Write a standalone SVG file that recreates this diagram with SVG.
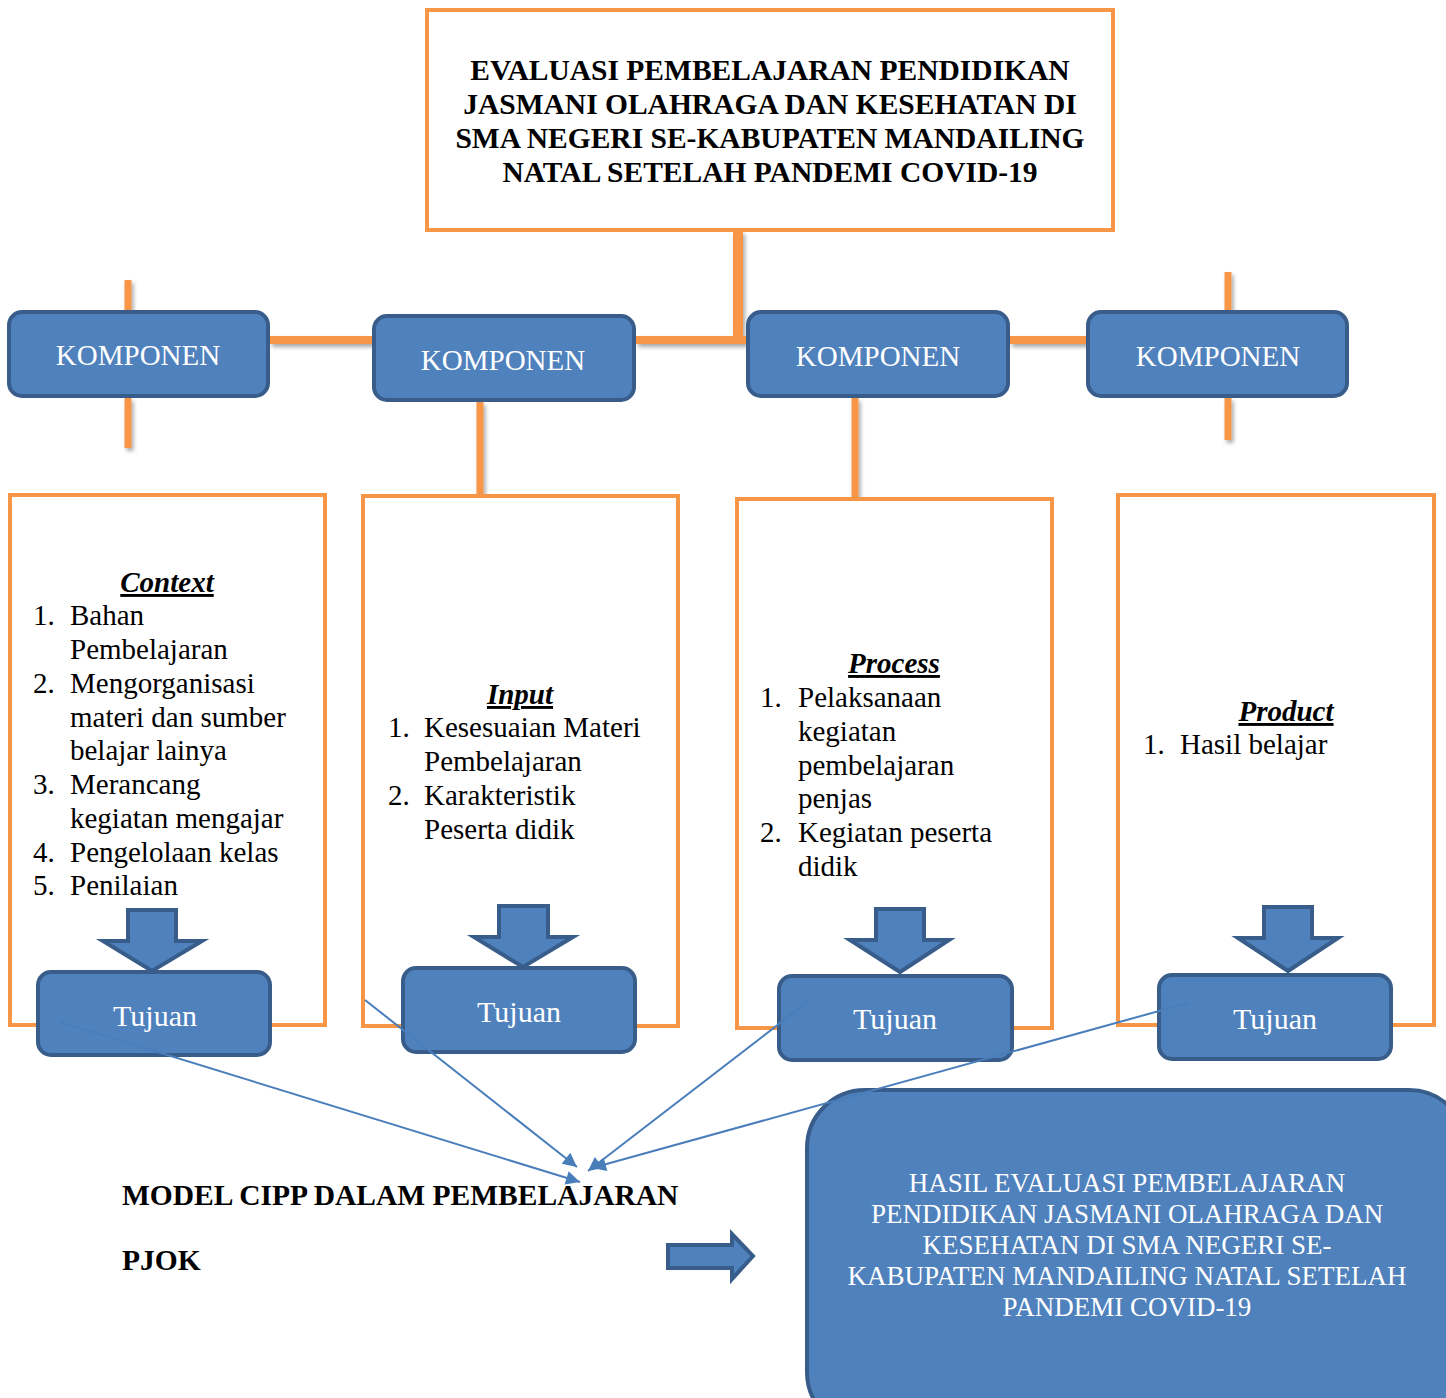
<svg xmlns="http://www.w3.org/2000/svg" width="1446" height="1398" viewBox="0 0 1446 1398">
<defs>
<style>
.ol{stroke:#F79646;fill:none}
.obox{fill:#FFFFFF;stroke:#F79646;stroke-width:4}
.bbox{fill:#4F81BD;stroke:#385D8A;stroke-width:4}
.barrow{fill:#4F81BD;stroke:#385D8A;stroke-width:4;stroke-linejoin:miter}
.wt{font-family:"Liberation Serif","Times New Roman",serif;fill:#FFFFFF;text-anchor:middle}
.bt{font-family:"Liberation Serif","Times New Roman",serif;fill:#000000;font-size:29px}
.bold{font-weight:bold;font-size:29.5px}
.hd{font-family:"Liberation Serif","Times New Roman",serif;font-weight:bold;font-style:italic;text-decoration:underline;font-size:29px;text-anchor:middle;fill:#000}
.thin{stroke:#4A7EBB;stroke-width:2;fill:none;marker-end:url(#ah)}
</style>
<filter id="sh" x="-50%" y="-50%" width="200%" height="200%">
<feGaussianBlur in="SourceAlpha" stdDeviation="2"/>
<feOffset dx="2" dy="3" result="b"/>
<feComponentTransfer><feFuncA type="linear" slope="0.35"/></feComponentTransfer>
<feMerge><feMergeNode/><feMergeNode in="SourceGraphic"/></feMerge>
</filter>
<marker id="ah" viewBox="0 0 10 10" refX="10" refY="5" markerWidth="16" markerHeight="14" markerUnits="userSpaceOnUse" orient="auto">
<path d="M0,0 L10,5 L0,10 z" fill="#4A7EBB"/>
</marker>
</defs>
<rect width="1446" height="1398" fill="#FFFFFF"/>

<g id="connectors" filter="url(#sh)">
<line class="ol" stroke-width="10" x1="738" y1="231" x2="738" y2="344"/>
<line class="ol" stroke-width="8" x1="270" y1="340" x2="373" y2="340"/>
<line class="ol" stroke-width="8" x1="636" y1="340" x2="746" y2="340"/>
<line class="ol" stroke-width="8" x1="1010" y1="340" x2="1087" y2="340"/>
<line class="ol" stroke-width="7" x1="128" y1="280" x2="128" y2="311"/>
<line class="ol" stroke-width="7" x1="128" y1="398" x2="128" y2="448"/>
<line class="ol" stroke-width="7" x1="480" y1="402" x2="480" y2="495"/>
<line class="ol" stroke-width="7" x1="855" y1="398" x2="855" y2="498"/>
<line class="ol" stroke-width="7" x1="1228" y1="272" x2="1228" y2="311"/>
<line class="ol" stroke-width="7" x1="1228" y1="398" x2="1228" y2="440"/>
</g>

<g id="title">
<rect class="obox" x="427" y="10" width="686" height="220"/>
<text class="bt bold" text-anchor="middle" x="770" y="80">EVALUASI PEMBELAJARAN PENDIDIKAN</text>
<text class="bt bold" text-anchor="middle" x="770" y="114">JASMANI OLAHRAGA DAN KESEHATAN DI</text>
<text class="bt bold" text-anchor="middle" x="770" y="148">SMA NEGERI SE-KABUPATEN MANDAILING</text>
<text class="bt bold" text-anchor="middle" x="770" y="182">NATAL SETELAH PANDEMI COVID-19</text>
</g>

<g id="komponen1">
<rect class="bbox" x="9" y="312" width="259" height="84" rx="13"/>
<text class="wt" x="138" y="365" font-size="29">KOMPONEN</text>
</g>
<g id="komponen2">
<rect class="bbox" x="374" y="316" width="260" height="84" rx="13"/>
<text class="wt" x="503" y="370" font-size="29">KOMPONEN</text>
</g>
<g id="komponen3">
<rect class="bbox" x="748" y="312" width="260" height="84" rx="13"/>
<text class="wt" x="878" y="366" font-size="29">KOMPONEN</text>
</g>
<g id="komponen4">
<rect class="bbox" x="1088" y="312" width="259" height="84" rx="13"/>
<text class="wt" x="1218" y="366" font-size="29">KOMPONEN</text>
</g>

<g id="context">
<rect class="obox" x="10" y="495" width="315" height="530"/>
<text class="hd" x="167" y="592">Context</text>
<text class="bt" x="33" y="625">1.</text><text class="bt" x="70" y="625">Bahan</text>
<text class="bt" x="70" y="659">Pembelajaran</text>
<text class="bt" x="33" y="693">2.</text><text class="bt" x="70" y="693">Mengorganisasi</text>
<text class="bt" x="70" y="727">materi dan sumber</text>
<text class="bt" x="70" y="760">belajar lainya</text>
<text class="bt" x="33" y="794">3.</text><text class="bt" x="70" y="794">Merancang</text>
<text class="bt" x="70" y="828">kegiatan mengajar</text>
<text class="bt" x="33" y="862">4.</text><text class="bt" x="70" y="862">Pengelolaan kelas</text>
<text class="bt" x="33" y="895">5.</text><text class="bt" x="70" y="895">Penilaian</text>
<polygon class="barrow" points="128,910 176,910 176,941 202,941 152,971 103,941 128,941"/>
</g>

<g id="input">
<rect class="obox" x="363" y="496" width="315" height="530"/>
<text class="hd" x="520" y="704">Input</text>
<text class="bt" x="388" y="737">1.</text><text class="bt" x="424" y="737">Kesesuaian Materi</text>
<text class="bt" x="424" y="771">Pembelajaran</text>
<text class="bt" x="388" y="805">2.</text><text class="bt" x="424" y="805">Karakteristik</text>
<text class="bt" x="424" y="839">Peserta didik</text>
<polygon class="barrow" points="499,906 548,906 548,937 573,937 523,967 474,937 499,937"/>
</g>

<g id="process">
<rect class="obox" x="737" y="499" width="315" height="529"/>
<text class="hd" x="894" y="673">Process</text>
<text class="bt" x="760" y="707">1.</text><text class="bt" x="798" y="707">Pelaksanaan</text>
<text class="bt" x="798" y="741">kegiatan</text>
<text class="bt" x="798" y="775">pembelajaran</text>
<text class="bt" x="798" y="808">penjas</text>
<text class="bt" x="760" y="842">2.</text><text class="bt" x="798" y="842">Kegiatan peserta</text>
<text class="bt" x="798" y="876">didik</text>
<polygon class="barrow" points="876,909 924,909 924,940 949,940 900,972 850,940 876,940"/>
</g>

<g id="product">
<rect class="obox" x="1118" y="495" width="316" height="530"/>
<text class="hd" x="1286" y="721">Product</text>
<text class="bt" x="1143" y="754">1.</text><text class="bt" x="1180" y="754">Hasil belajar</text>
<polygon class="barrow" points="1264,907 1312,907 1312,938 1338,938 1288,971 1238,938 1264,938"/>
</g>

<g id="tujuan1">
<rect class="bbox" x="38" y="972" width="232" height="83" rx="13"/>
<text class="wt" x="155" y="1026" font-size="30">Tujuan</text>
</g>
<g id="tujuan2">
<rect class="bbox" x="403" y="968" width="232" height="84" rx="13"/>
<text class="wt" x="519" y="1022" font-size="30">Tujuan</text>
</g>
<g id="tujuan3">
<rect class="bbox" x="779" y="976" width="233" height="84" rx="13"/>
<text class="wt" x="895" y="1029" font-size="30">Tujuan</text>
</g>
<g id="tujuan4">
<rect class="bbox" x="1159" y="975" width="232" height="84" rx="13"/>
<text class="wt" x="1275" y="1029" font-size="30">Tujuan</text>
</g>

<g id="model">
<text class="bt bold" x="122" y="1205">MODEL CIPP DALAM PEMBELAJARAN</text>
<text class="bt bold" x="122" y="1270">PJOK</text>
</g>

<g id="right-arrow">
<polygon class="barrow" stroke-width="3" points="668,1245 732,1245 732,1234 753,1256 732,1279 732,1268 668,1268"/>
</g>

<g id="hasil">
<rect class="bbox" x="807" y="1090" width="660" height="340" rx="58"/>
<text class="wt" x="1127" y="1192" font-size="27">HASIL EVALUASI PEMBELAJARAN</text>
<text class="wt" x="1127" y="1223" font-size="27">PENDIDIKAN JASMANI OLAHRAGA DAN</text>
<text class="wt" x="1127" y="1254" font-size="27">KESEHATAN DI SMA NEGERI SE-</text>
<text class="wt" x="1127" y="1285" font-size="27">KABUPATEN MANDAILING NATAL SETELAH</text>
<text class="wt" x="1127" y="1316" font-size="27">PANDEMI COVID-19</text>
</g>

<g id="connectors-arrows">
<line class="thin" x1="60" y1="1022" x2="580" y2="1182"/>
<line class="thin" x1="365" y1="1000" x2="577" y2="1167"/>
<line class="thin" x1="810" y1="1000" x2="588" y2="1171"/>
<line class="thin" x1="1188" y1="1003" x2="592" y2="1168"/>
</g>
</svg>
